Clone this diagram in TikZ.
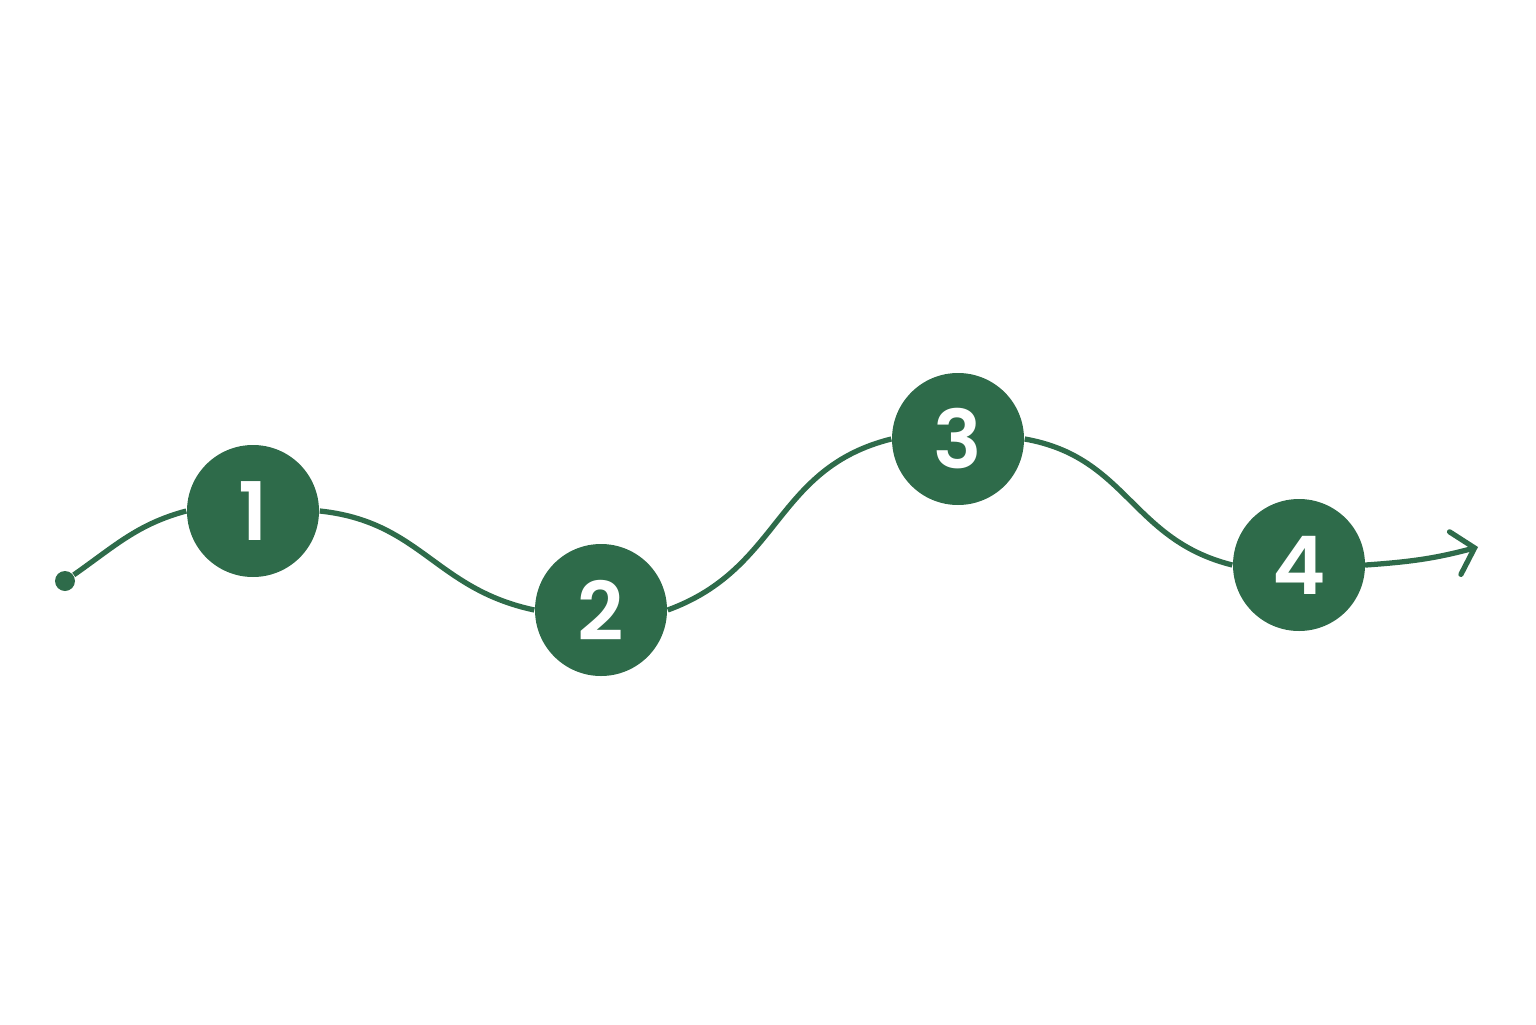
\documentclass[tikz,border=0pt]{standalone}
\usepackage{fontspec}
\setmainfont{Poppins}[BoldFont={Poppins SemiBold}]
\usetikzlibrary{arrows.meta}
\definecolor{pathgreen}{HTML}{2E6B4A}
\tikzset{
  stopnode/.style={circle, fill=pathgreen, inner sep=0pt, minimum size=1.32cm,
    text=white, font=\fontsize{23}{23}\selectfont\bfseries},
  trail/.style={draw=pathgreen, line width=1.5pt, looseness=1.1},
}

\begin{document}
\begin{tikzpicture}
  \useasboundingbox (0,0) rectangle (15.36,10.24);

  \node[circle, fill=pathgreen, inner sep=0pt, minimum size=2mm] (0) at (0.65,4.43) {};
  \node[stopnode] (1) at (2.53,5.13) {1};
  \node[stopnode] (2) at (6.01,4.14) {2};
  \node[stopnode] (3) at (9.58,5.85) {3};
  \node[stopnode] (4) at (12.99,4.59) {4};
  \coordinate (5) at (14.78,4.77);

  \draw[trail] (0) to[out=35, in=195, looseness=1] (1.west);
  \draw[trail] (1.east) to[out=-6, in=168] (2.west);
  \draw[trail] (2.east) to[out=20, in=194] (3.west);
  \draw[trail] (3.east) to[out=-10, in=166] (4.west);
  \draw[trail, line cap=round, looseness=1,
    -{Straight Barb[length=2mm, width=4.4mm, line cap=round]}] (4.east) to[out=4, in=195] (5);
\end{tikzpicture}
\end{document}
